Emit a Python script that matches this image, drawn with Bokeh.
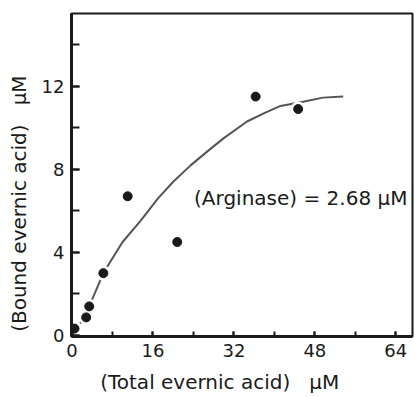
import numpy as np
from bokeh.plotting import figure
from bokeh.models import Label, Range1d, FixedTicker
from bokeh.embed import file_html
from bokeh.resources import INLINE

# measured points
total_acid = [0.5, 2.8, 3.4, 6.2, 11.0, 20.8, 36.3, 44.7]
bound_acid = [0.33, 0.87, 1.4, 3.0, 6.7, 4.5, 11.5, 10.9]

# fitted curve
curve_x = [0.5, 2.8, 3.4, 6.2, 7.2, 10.0, 13.5, 17.0, 20.0, 23.5, 26.7, 30.0, 34.6, 38.0, 41.2, 45.7, 49.6, 53.6]
curve_y = [0.33, 0.87, 1.4, 3.0, 3.4, 4.5, 5.5, 6.6, 7.4, 8.2, 8.85, 9.5, 10.3, 10.7, 11.05, 11.25, 11.45, 11.5]

x_ticks = [0, 16, 32, 48, 64]
y_ticks = [0, 4, 8, 12]

FONT = "DejaVu Sans"
PADX = "\u00a0" * 7
PADY = "\u00a0" * 9

p = figure(width=415, height=397, output_backend="svg", toolbar_location=None,
           x_range=Range1d(-0.1, 67.3), y_range=Range1d(-0.05, 15.5),
           min_border_left=71, min_border_right=3, min_border_top=13, min_border_bottom=61)

p.grid.visible = False
p.background_fill_color = "white"
p.border_fill_color = "white"
p.outline_line_color = "#1a1a1a"
p.outline_line_width = 2

p.xaxis.ticker = FixedTicker(ticks=x_ticks, minor_ticks=list(range(0, 68, 8)))
p.yaxis.ticker = FixedTicker(ticks=y_ticks, minor_ticks=list(range(0, 16, 2)))

for ax in (p.xaxis, p.yaxis):
    ax.axis_line_width = 3
    ax.axis_line_color = "#1a1a1a"
    ax.major_tick_line_color = "#1a1a1a"
    ax.minor_tick_line_color = "#1a1a1a"
    ax.major_tick_line_width = 2
    ax.minor_tick_line_width = 2
    ax.major_tick_out = 0
    ax.minor_tick_out = 0
    ax.major_label_text_font = FONT
    ax.major_label_text_font_size = "18px"
    ax.major_label_text_color = "#1a1a1a"
    ax.major_label_standoff = 7
    ax.axis_label_text_font = FONT
    ax.axis_label_text_font_size = "20px"
    ax.axis_label_text_font_style = "normal"
    ax.axis_label_text_color = "#1a1a1a"
p.xaxis.axis_label_standoff = 10
p.yaxis.axis_label_standoff = 8
p.xaxis.major_tick_in = 5
p.xaxis.minor_tick_in = 5
p.yaxis.major_tick_in = 8
p.yaxis.minor_tick_in = 8

p.xaxis.axis_label = "(Total evernic acid)\u00a0\u00a0\u00a0μM" + PADX
p.yaxis.axis_label = "(Bound evernic acid)\u00a0\u00a0\u00a0μM" + PADY

# curve
p.line(curve_x, curve_y, line_color="#555555", line_width=2)
# white halos around points to break the curve
p.scatter(total_acid, bound_acid, size=9, fill_color="white", line_color="white", line_width=6)
p.scatter(total_acid, bound_acid, size=9, fill_color="#1a1a1a", line_color="#1a1a1a")

p.add_layout(Label(x=66.3, y=6.6, text="(Arginase) = 2.68 μM", text_align="right",
                   text_baseline="middle", text_font=FONT, text_font_size="20px",
                   text_color="#1a1a1a"))

open("out.html", "w").write(file_html(p, INLINE))
